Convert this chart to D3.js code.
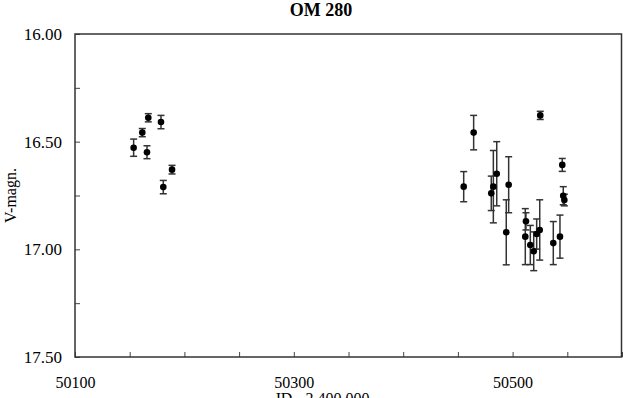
<!DOCTYPE html>
<html>
<head>
<meta charset="utf-8">
<script src="https://cdnjs.cloudflare.com/ajax/libs/d3/7.8.5/d3.min.js"></script>
<style>
  html, body { margin: 0; padding: 0; background: #fff; }
  svg { display: block; }
  text { font-family: "Liberation Serif", "DejaVu Serif", serif; fill: #000; }
</style>
</head>
<body>
<div id="chart"></div>
<script>
// observations: Julian date, V magnitude, error
var jd = [50153.6, 50161.5, 50165.8, 50167.0, 50178.6, 50180.7, 50188.7,
          50455.3, 50464.4, 50480.5, 50482.4, 50485.5, 50494.2, 50496.4,
          50511.6, 50512.2, 50516.2, 50519.3, 50522.0, 50524.8, 50525.3,
          50537.2, 50543.3, 50545.4, 50546.3, 50547.3];
var mag = [16.528, 16.458, 16.549, 16.389, 16.409, 16.711, 16.630,
           16.709, 16.458, 16.740, 16.709, 16.649, 16.921, 16.700,
           16.941, 16.870, 16.980, 17.009, 16.929, 16.910, 16.378,
           16.971, 16.941, 16.608, 16.751, 16.771];
var err = [0.040, 0.019, 0.030, 0.019, 0.031, 0.031, 0.020,
           0.070, 0.080, 0.080, 0.168, 0.149, 0.151, 0.130,
           0.130, 0.040, 0.091, 0.090, 0.070, 0.140, 0.019,
           0.100, 0.100, 0.030, 0.042, 0.027];

var xTicks = [50100, 50150, 50200, 50250, 50300, 50350, 50400, 50450, 50500, 50550, 50600];
var xLabels = [50100, 50300, 50500];
var yTicks = [16.00, 16.25, 16.50, 16.75, 17.00, 17.25, 17.50];
var yLabels = [16.00, 16.50, 17.00, 17.50];

var width = 623, height = 398;
var margin = {top: 34, right: 1, bottom: 41, left: 75};

var svg = d3.select("#chart").append("svg")
  .attr("width", width)
  .attr("height", height);

var x = d3.scaleLinear().domain([50100, 50600]).range([margin.left, width - margin.right]);
var y = d3.scaleLinear().domain([16, 17.5]).range([margin.top, height - margin.bottom]);

var data = jd.map(function (d, i) { return {jd: d, mag: mag[i], err: err[i]}; });

// title
svg.append("text")
  .attr("x", 321)
  .attr("y", 16)
  .attr("text-anchor", "middle")
  .attr("font-size", "18px")
  .attr("font-weight", "bold")
  .text("OM 280");

// axes
var xAxis = svg.append("g")
  .attr("transform", "translate(0," + y(17.5) + ")")
  .call(d3.axisBottom(x)
    .tickValues(xTicks)
    .tickSizeInner(-5)
    .tickSizeOuter(0)
    .tickPadding(20)
    .tickFormat(function (d) { return xLabels.indexOf(d) >= 0 ? d : ""; }));

var yAxis = svg.append("g")
  .attr("transform", "translate(" + x(50100) + ",0)")
  .call(d3.axisLeft(y)
    .tickValues(yTicks)
    .tickSizeInner(-5)
    .tickSizeOuter(0)
    .tickPadding(13)
    .tickFormat(function (d) { return yLabels.indexOf(d) >= 0 ? d.toFixed(2) : ""; }));

[xAxis, yAxis].forEach(function (g) {
  g.select(".domain").remove();
  g.selectAll(".tick line").attr("stroke", "#444").attr("stroke-width", 1);
  g.selectAll(".tick text")
    .attr("font-family", "Liberation Serif, serif")
    .attr("font-size", "16px")
    .attr("fill", "#000");
});
yAxis.selectAll(".tick text").attr("font-size", "17px");

// frame
svg.append("rect")
  .attr("x", x(50100))
  .attr("y", y(16))
  .attr("width", x(50600) - x(50100) - 0.5)
  .attr("height", y(17.5) - y(16))
  .attr("fill", "none")
  .attr("stroke", "#333")
  .attr("stroke-width", 1.5);

// axis titles
svg.append("text")
  .attr("x", 322)
  .attr("y", 404)
  .attr("text-anchor", "middle")
  .attr("font-size", "16px")
  .text("JD - 2 400 000");

svg.append("text")
  .attr("transform", "translate(16," + ((y(16) + y(17.5)) / 2) + ") rotate(-90)")
  .attr("text-anchor", "middle")
  .attr("font-size", "16px")
  .text("V-magn.");

// error bars
var cap = 3.5;
var bars = svg.append("g")
  .attr("stroke", "#333")
  .attr("stroke-width", 1.5)
  .selectAll("g")
  .data(data)
  .enter().append("g");

bars.append("line")
  .attr("x1", function (d) { return x(d.jd); })
  .attr("x2", function (d) { return x(d.jd); })
  .attr("y1", function (d) { return y(d.mag - d.err); })
  .attr("y2", function (d) { return y(d.mag + d.err); });

bars.append("line")
  .attr("x1", function (d) { return x(d.jd) - cap; })
  .attr("x2", function (d) { return x(d.jd) + cap; })
  .attr("y1", function (d) { return y(d.mag - d.err); })
  .attr("y2", function (d) { return y(d.mag - d.err); });

bars.append("line")
  .attr("x1", function (d) { return x(d.jd) - cap; })
  .attr("x2", function (d) { return x(d.jd) + cap; })
  .attr("y1", function (d) { return y(d.mag + d.err); })
  .attr("y2", function (d) { return y(d.mag + d.err); });

// points
svg.append("g")
  .selectAll("circle")
  .data(data)
  .enter().append("circle")
  .attr("cx", function (d) { return x(d.jd); })
  .attr("cy", function (d) { return y(d.mag); })
  .attr("r", 3.3)
  .attr("fill", "#000");
</script>
</body>
</html>
